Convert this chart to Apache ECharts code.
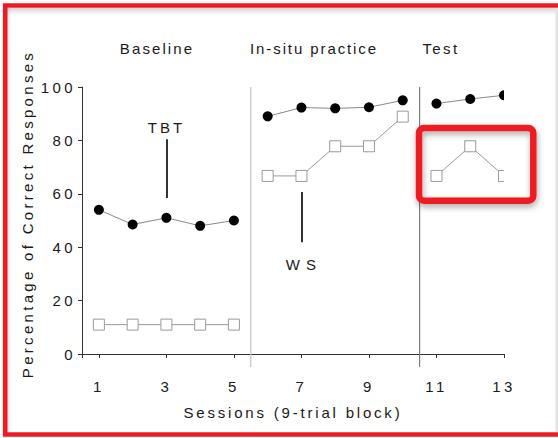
<!DOCTYPE html>
<html>
<head>
<meta charset="utf-8">
<script src="https://cdn.jsdelivr.net/npm/echarts@6/dist/echarts.min.js"></script>
<style>
  html, body { margin: 0; padding: 0; background: #fff; }
  #chart { width: 558px; height: 438px; }
</style>
</head>
<body>
<div id="chart"></div>
<script>
// Sessions (9-trial blocks) and percentage of correct responses per condition
const sessions = [1, 2, 3, 4, 5, 6, 7, 8, 9, 10, 11, 12, 13];
const filledCircle = [54, 48.5, 51, 48, 50, 89, 92.3, 92, 92.4, 95, 93.8, 95.5, 96.9];
const openSquare = [11, 11, 11, 11, 11, 66.7, 66.7, 77.8, 77.8, 88.9, 66.7, 77.8, 66.7];

// Phase changes happen between sessions 5|6 and 10|11
const phaseBreaks = [5.5, 10.5];
const phaseNames = ['Baseline', 'In-situ practice', 'Test'];

// Axis ticks and labels
const yTicks = [0, 20, 40, 60, 80, 100];
const xTickMarks = [0.5, 1, 3, 5, 7, 9, 11, 13];
const xTickLabels = [1, 3, 5, 7, 9, 11, 13];

// Annotation pointers: [session, upper value, lower value]
const tbtPointer = [3, 80.4, 58.4];
const wsPointer = [7, 60.7, 41.9];

const FONT = '"Liberation Sans", Arial, sans-serif';
const TEXT = '#1a1a1a';
const X_AXIS_OFFSET = 13;

// Break the connecting line wherever a phase change falls between two sessions
function segmented(values) {
  const out = [];
  sessions.forEach((s, i) => {
    if (i > 0) {
      const prev = sessions[i - 1];
      phaseBreaks.forEach(b => { if (b > prev && b < s) out.push([b, '-']); });
    }
    out.push([s, values[i]]);
  });
  return out;
}

const chart = echarts.init(document.getElementById('chart'), null, { renderer: 'svg' });

// Extra tracking between glyphs, keyed by the drawn string
const tracking = {
  'Baseline': 2.1, 'In-situ practice': 1.9, 'Test': 2.4,
  'TBT': 3, 'W S': 1,
  'Sessions (9-trial block)': 2.8,
  'Percentage of Correct Responses': 3.3
};
function applyTracking() {
  document.querySelectorAll('#chart text').forEach(t => {
    const s = tracking[t.textContent];
    t.style.letterSpacing = (s === undefined ? 3.4 : s) + 'px';
  });
}

const titleX = [157, 314, 441];

const option = {
  animation: false,
  backgroundColor: '#fff',
  grid: { left: 82, top: 87, width: 422, height: 267, containLabel: false },
  xAxis: {
    type: 'value', min: 0.5, max: 13, offset: X_AXIS_OFFSET,
    name: 'Sessions (9-trial block)', nameLocation: 'middle', nameGap: 38,
    nameTextStyle: { fontSize: 15, fontFamily: FONT, color: TEXT },
    axisLine: { lineStyle: { color: '#333', width: 1 } },
    axisTick: { show: true, length: 4, customValues: xTickMarks, lineStyle: { color: '#333' } },
    axisLabel: { customValues: xTickLabels, fontSize: 15, fontFamily: FONT, color: TEXT, margin: 12 },
    splitLine: { show: false }
  },
  yAxis: {
    type: 'value', min: 0, max: 100, interval: 20,
    name: 'Percentage of Correct Responses', nameLocation: 'middle', nameGap: 47,
    nameTextStyle: { fontSize: 15, fontFamily: FONT, color: TEXT, padding: [0, 0, 0, 13] },
    axisLine: { show: true, lineStyle: { color: '#333', width: 1 } },
    axisTick: { show: true, length: 4, lineStyle: { color: '#333' } },
    axisLabel: { fontSize: 15, fontFamily: FONT, color: TEXT, margin: 6,
      customValues: yTicks },
    splitLine: { show: false }
  },
  series: [
    {
      // phase separators, running down to the offset x axis
      type: 'custom', clip: false, silent: true, z: 1,
      data: phaseBreaks.map(b => [b, 100]),
      renderItem(params, api) {
        const top = api.coord([api.value(0), 100]);
        const bot = api.coord([api.value(0), 0]);
        return {
          type: 'line',
          shape: { x1: top[0], y1: top[1], x2: bot[0], y2: bot[1] + X_AXIS_OFFSET },
          style: { stroke: params.dataIndex === 0 ? '#c2c2c2' : '#7d7d7d', lineWidth: 1.2 }
        };
      }
    },
    {
      type: 'line', z: 2, silent: true,
      data: segmented(filledCircle), connectNulls: false,
      showSymbol: false, symbol: 'none',
      lineStyle: { color: '#8a8a8a', width: 1 },
      markLine: {
        silent: true, symbol: 'none', animation: false,
        lineStyle: { color: '#000', width: 1.6, type: 'solid' },
        data: [
          [
            { coord: [tbtPointer[0], tbtPointer[1]],
              label: { show: true, formatter: 'TBT', position: 'start', distance: 4,
                fontSize: 15, fontFamily: FONT, color: TEXT } },
            { coord: [tbtPointer[0], tbtPointer[2]] }
          ],
          [
            { coord: [wsPointer[0], wsPointer[1]],
              label: { show: true, formatter: 'W S', position: 'end', distance: 15,
                fontSize: 15, fontFamily: FONT, color: TEXT } },
            { coord: [wsPointer[0], wsPointer[2]] }
          ]
        ]
      }
    },
    {
      type: 'line', z: 2, silent: true,
      data: segmented(openSquare), connectNulls: false,
      showSymbol: false, symbol: 'none',
      lineStyle: { color: '#9a9a9a', width: 1 }
    },
    {
      // filled circles, cropped at the plot edge
      type: 'custom', clip: true, z: 5, silent: true,
      data: sessions.map((s, i) => [s, filledCircle[i]]),
      renderItem(params, api) {
        const p = api.coord([api.value(0), api.value(1)]);
        return { type: 'circle', shape: { cx: p[0], cy: p[1], r: 5 }, style: { fill: '#000' } };
      }
    },
    {
      // open squares, cropped at the plot edge
      type: 'custom', clip: true, z: 5, silent: true,
      data: sessions.map((s, i) => [s, openSquare[i]]),
      renderItem(params, api) {
        const p = api.coord([api.value(0), api.value(1)]);
        return {
          type: 'rect', shape: { x: p[0] - 5.5, y: p[1] - 5.5, width: 11, height: 11 },
          style: { fill: '#fff', stroke: '#9a9a9a', lineWidth: 1 }
        };
      }
    }
  ],
  graphic: [
    // phase titles
    ...phaseNames.map((name, i) => ({
      type: 'text', x: titleX[i], y: 48, z: 10,
      style: { text: name, font: '15px ' + FONT, fill: TEXT, align: 'center', verticalAlign: 'middle' }
    })),
    // inner shading along the frame
    { type: 'rect', z: 20, silent: true, shape: { x: 7, y: 8, width: 549, height: 7 },
      style: { fill: { type: 'linear', x: 0, y: 0, x2: 0, y2: 1,
        colorStops: [{ offset: 0, color: 'rgba(0,0,0,0.16)' }, { offset: 1, color: 'rgba(0,0,0,0)' }] } } },
    { type: 'rect', z: 20, silent: true, shape: { x: 7, y: 8, width: 5, height: 424 },
      style: { fill: { type: 'linear', x: 0, y: 0, x2: 1, y2: 0,
        colorStops: [{ offset: 0, color: 'rgba(0,0,0,0.10)' }, { offset: 1, color: 'rgba(0,0,0,0)' }] } } },
    { type: 'rect', z: 20, silent: true, shape: { x: 555.5, y: 8, width: 2.5, height: 424 },
      style: { fill: '#e2e2e2' } },
    // red frame
    { type: 'rect', z: 30, silent: true, shape: { x: 5.2, y: 5.5, width: 700, height: 429 },
      style: { fill: 'none', stroke: '#ED1C24', lineWidth: 4.6 } },
    // red highlight around the test-phase squares
    { type: 'rect', z: 30, silent: true, shape: { x: 419, y: 128, width: 114.3, height: 72.7, r: 5 },
      style: { fill: 'none', stroke: '#ED1C24', lineWidth: 6.5,
        shadowBlur: 6, shadowColor: 'rgba(0,0,0,0.35)', shadowOffsetX: 1, shadowOffsetY: 3 } }
  ]
};

chart.setOption(option);
applyTracking();
chart.on('finished', applyTracking);
setTimeout(applyTracking, 0);
</script>
</body>
</html>
